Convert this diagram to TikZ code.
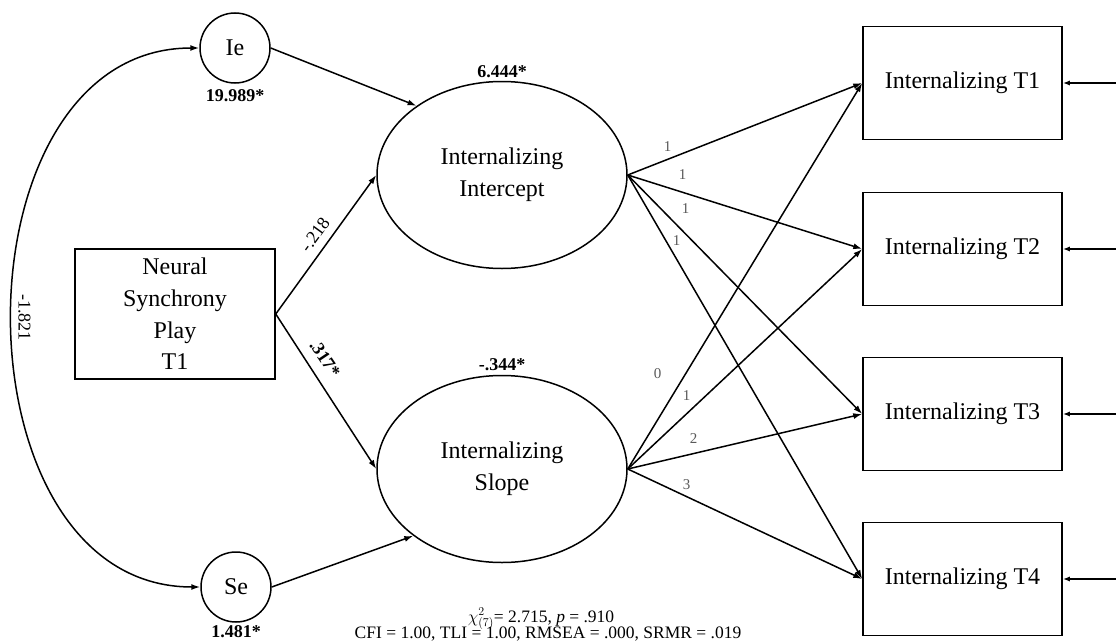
\documentclass[tikz,border=0pt]{standalone}
\usepackage{fontspec}
\setmainfont{Liberation Serif}
\usetikzlibrary{arrows.meta,shapes.geometric}
\begin{document}
\begin{tikzpicture}[x=1pt,y=-1pt,
  every node/.style={inner sep=0pt},
  lw/.style={line width=1.5pt},
  lat/.style={draw, lw, ellipse, minimum width=250pt, minimum height=187pt, align=center, font=\fontsize{24}{31.7}\selectfont},
  obs/.style={draw, lw, rectangle, minimum width=199pt, minimum height=113pt, font=\fontsize{24}{29}\selectfont},
  res/.style={draw, lw, circle, minimum size=70pt, font=\fontsize{24}{29}\selectfont},
  tip/.style={-{Latex[length=9pt,width=6pt]}},
  pth/.style={lw, tip},
  est/.style={font=\bfseries\fontsize{18}{20}\selectfont},
  coef/.style={font=\fontsize{18}{20}\selectfont},
  ld/.style={font=\fontsize{15}{17}\selectfont, text=black!65},
  fitfont/.style={font=\fontsize{17.5}{14}\selectfont, anchor=base}
]
\useasboundingbox (0,0) rectangle (1116,642);

% residual factors
\node[res] (Ie) at (235,48) {Ie};
\node[res] (Se) at (236,587) {Se};
\node[est] (IeV) at (235,96) {19.989*};
\node[est] (SeV) at (236,632) {1.481*};

% predictor
\node[draw, lw, rectangle, minimum width=200pt, minimum height=130pt, align=center,
      font=\fontsize{24}{31.7}\selectfont] (NS) at (175,314) {Neural\\Synchrony\\Play\\T1};

% latent growth factors
\node[lat] (Int) at (502,175) {Internalizing\\Intercept};
\node[lat] (Slo) at (502,469) {Internalizing\\Slope};
\node[est] (IntV) at (502,72) {6.444*};
\node[est] (SloV) at (502,365) {-.344*};

% observed indicators
\node[obs] (T1) at (962.5,83) {Internalizing T1};
\node[obs] (T2) at (962.5,249) {Internalizing T2};
\node[obs] (T3) at (962.5,414) {Internalizing T3};
\node[obs] (T4) at (962.5,579) {Internalizing T4};
\coordinate (e1) at (1116,83);
\coordinate (e2) at (1116,249);
\coordinate (e3) at (1116,414);
\coordinate (e4) at (1116,579);

% fit
\node[fitfont] (fit1) at (541,622) {$\chi^{2}_{(7)}$= 2.715, \textit{p} = .910};
\node[fitfont] (fit2) at (548,638) {CFI = 1.00, TLI = 1.00, RMSEA = .000, SRMR = .019};

% paths
\draw[pth] (Ie.east) -- (Int.141);
\draw[pth] (Se.east) -- (Slo.217);
\draw[pth] (NS.east) -- node[coef, pos=0.51, xshift=-12pt, yshift=8.5pt, rotate=54] (c1) {-.218} (Int.west);
\draw[pth] (NS.east) -- node[est, pos=0.35, xshift=14pt, yshift=9.5pt, rotate=-56] (c2) {.317*} (Slo.west);
\draw[lw, {Latex[length=9pt,width=6pt]}-{Latex[length=9pt,width=6pt]}]
  (Ie.west) .. controls (-50,48) and (-50,587) .. node[coef, pos=0.5, xshift=12pt, rotate=-90] (c3) {-1.821} (Se.west);

% loadings intercept
\draw[pth] (Int.east) -- node[ld, pos=0.17, yshift=12.5pt] (l1) {1} (T1.west);
\draw[pth] (Int.east) -- node[ld, pos=0.234, yshift=18pt] (l2) {1} (T2.west);
\draw[pth] (Int.east) -- node[ld, pos=0.247, yshift=25pt] (l3) {1} (T3.west);
\draw[pth] (Int.east) -- node[ld, pos=0.2085, yshift=18.5pt] (l4) {1} (T4.west);
% loadings slope
\draw[pth] (Slo.east) -- node[ld, pos=0.247, xshift=-28pt] (s1) {0} (T1.west);
\draw[pth] (Slo.east) -- node[ld, pos=0.251, yshift=18.5pt] (s2) {1} (T2.west);
\draw[pth] (Slo.east) -- node[ld, pos=0.281, yshift=15pt] (s3) {2} (T3.west);
\draw[pth] (Slo.east) -- node[ld, pos=0.251, yshift=12.5pt] (s4) {3} (T4.west);

% residual arrows
\foreach \i in {1,2,3,4} \draw[lw, -{Latex[length=7pt,width=5pt]}] (e\i) -- (T\i.east);
\end{tikzpicture}
\end{document}
